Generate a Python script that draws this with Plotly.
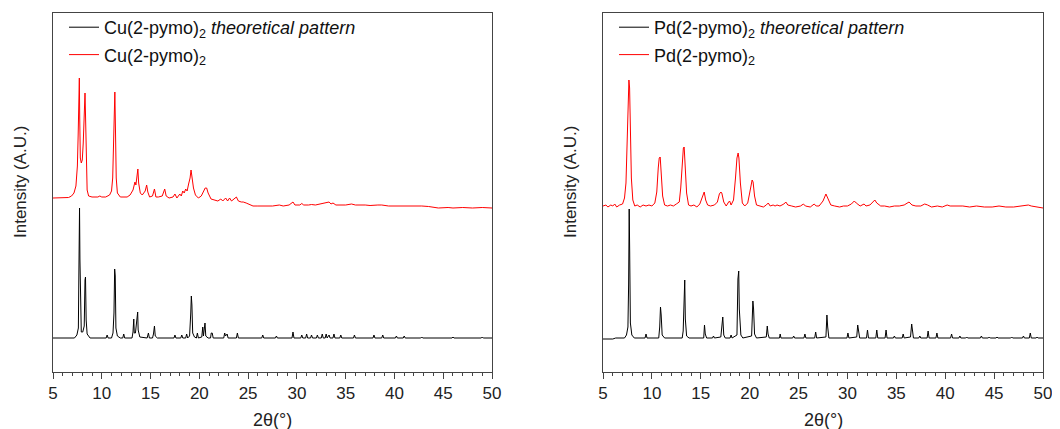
import plotly.graph_objects as go

# ---------------- data (2θ in degrees, intensity in arbitrary units) ----------------
cu_theo_2theta = [5.0, 7.2, 7.45, 7.6, 7.65, 7.72, 7.76, 7.82, 7.9, 8.05, 8.2, 8.28, 8.33, 8.4, 8.5, 8.8,
                  10.45, 10.55, 10.65, 11.0, 11.15, 11.25, 11.32, 11.38, 11.45, 11.6, 11.9, 12.15, 12.25, 12.35,
                  13.1, 13.2, 13.28, 13.33, 13.45, 13.6, 13.68, 13.73, 13.9, 14.65, 14.78, 14.88, 15.2, 15.3,
                  15.4, 15.48, 15.7, 17.4, 17.5, 17.6, 18.1, 18.2, 18.3, 18.6, 18.7, 18.8, 19.0, 19.12, 19.18,
                  19.24, 19.32, 19.5, 19.7, 19.8, 19.9, 20.25, 20.35, 20.42, 20.5, 20.58, 20.66, 20.9, 21.15,
                  21.22, 21.32, 21.42, 22.5, 22.6, 22.68, 22.85, 22.95, 23.8, 23.9, 24.0, 26.4, 26.5, 26.6,
                  27.8, 27.9, 28.0, 29.5, 29.6, 29.7, 30.4, 30.5, 30.6, 30.9, 31.0, 31.1, 31.4, 31.5, 31.6,
                  32.0, 32.1, 32.2, 32.5, 32.6, 32.7, 32.9, 33.0, 33.1, 33.3, 33.4, 33.7, 33.8, 33.9, 34.4,
                  34.5, 34.6, 35.8, 35.9, 36.0, 37.8, 37.9, 38.0, 38.7, 38.8, 38.9, 40.1, 40.2, 40.3, 40.9,
                  41.0, 41.1, 42.7, 42.8, 42.9, 45.9, 46.0, 46.1, 48.9, 49.0, 49.1, 50.0]
cu_theo_int = [0, 0, 3, 10, 62, 130, 79, 18, 6, 6, 12, 58, 61, 18, 4, 0,
               0, 3, 0, 0, 5, 25, 69, 62, 10, 2, 0, 0, 4, 0,
               0, 6, 19, 5, 5, 22, 26, 8, 1, 0, 5, 0, 0, 4,
               12, 2, 0, 0, 3, 0, 0, 3, 0, 0, 4, 0, 2, 25, 42,
               33, 5, 1, 0, 5, 0, 1, 11, 2, 12, 15, 2, 0, 0,
               5, 5, 0, 0, 5, 2, 4, 0, 0, 5, 0, 0, 3, 0,
               0, 2, 0, 0, 6, 0, 0, 3, 0, 0, 4, 0, 0, 3, 0,
               0, 3, 0, 0, 4, 0, 0, 4, 0, 3, 0, 0, 4, 0, 0,
               3, 0, 0, 3, 0, 0, 3, 0, 0, 3, 0, 0, 2, 0, 0,
               2, 0, 0, 1, 0, 0, 1, 0, 0, 1, 0, 0]

cu_exp_2theta = [5.0, 6.0, 6.6, 6.9, 7.15, 7.35, 7.5, 7.58, 7.64, 7.7, 7.74, 7.8, 7.9, 8.0, 8.1, 8.2, 8.28,
                 8.34, 8.42, 8.5, 8.65, 9.0, 9.6, 9.8, 10.0, 10.4, 10.8, 11.0, 11.12, 11.22, 11.28, 11.34,
                 11.4, 11.48, 11.6, 11.9, 12.6, 12.9, 13.2, 13.4, 13.5, 13.62, 13.7, 13.78, 13.95, 14.15,
                 14.45, 14.6, 14.72, 14.9, 15.2, 15.4, 15.55, 15.8, 16.2, 16.45, 16.6, 16.9, 17.3, 17.5,
                 17.7, 18.0, 18.15, 18.3, 18.45, 18.6, 18.75, 18.9, 19.05, 19.15, 19.25, 19.4, 19.6, 19.9,
                 20.2, 20.45, 20.6, 20.75, 20.9, 21.2, 21.6, 21.9, 22.2, 22.4, 22.7, 22.9, 23.1, 23.3, 23.8,
                 24.0, 24.3, 24.5, 24.8, 25.0, 25.5, 26.0, 27.0, 27.5, 28.2, 28.6, 29.2, 29.6, 29.8, 30.3,
                 30.5, 30.7, 31.2, 31.5, 31.9, 32.3, 32.6, 33.0, 33.3, 33.5, 33.7, 34.0, 34.5, 35.0, 35.6,
                 36.0, 37.0, 37.5, 38.3, 38.7, 39.4, 40.5, 41.5, 42.3, 42.8, 43.5, 44.5, 45.5, 46.0, 47.0,
                 48.0, 49.0, 50.0]
cu_exp_int = [10, 10, 10.5, 12, 15, 22, 42, 73, 130, 130, 90, 50, 45, 48, 65, 100, 115,
              90, 40, 18, 12, 11, 11, 12, 11, 11, 13, 17, 30, 70, 95, 116,
              80, 30, 15, 11, 11, 13, 18, 26, 23, 35, 39, 25, 15, 13,
              17, 23, 16, 11, 12, 19, 11, 11, 12, 19, 12, 10, 11, 14,
              10, 14, 12, 17, 15, 19, 17, 24, 30, 38, 30, 20, 13, 10,
              12, 18, 20, 20, 15, 9, 8, 7, 9, 7, 10, 7, 10, 7, 11,
              7, 6, 6, 5, 4, 2, 2, 2, 2, 3, 2, 3, 6, 3, 3,
              4.5, 3, 3, 3.5, 3, 4, 4, 5, 6, 4, 5, 3, 3, 3, 4,
              3, 3, 2.5, 3, 3, 2, 2, 2, 2.5, 2, 1.5, 0, 0.5, 0, 0.5,
              0, 0.5, 0]

pd_theo_2theta = [5.0, 6.0, 6.3, 7.2, 7.4, 7.55, 7.62, 7.68, 7.73, 7.8, 7.95, 8.2, 9.3, 9.4, 9.5, 10.7,
                  10.8, 10.88, 10.95, 11.05, 11.3, 13.1, 13.2, 13.3, 13.36, 13.42, 13.55, 13.8, 15.3, 15.38,
                  15.46, 15.6, 16.2, 16.3, 16.4, 17.05, 17.15, 17.25, 17.35, 17.5, 18.0, 18.1, 18.2, 18.7,
                  18.8, 18.88, 18.94, 19.0, 19.1, 19.3, 20.2, 20.33, 20.4, 20.5, 20.7, 21.7, 21.8, 21.88,
                  22.0, 23.05, 23.12, 23.2, 24.4, 24.5, 24.6, 25.55, 25.65, 25.75, 26.65, 26.75, 26.85,
                  27.8, 27.9, 27.98, 28.1, 29.95, 30.05, 30.15, 30.95, 31.05, 31.13, 31.25, 31.95, 32.05,
                  32.15, 32.9, 33.0, 33.1, 33.85, 33.95, 34.05, 34.7, 34.8, 34.9, 35.6, 35.7, 35.8, 36.45,
                  36.57, 36.65, 36.75, 37.3, 37.4, 37.5, 38.15, 38.25, 38.35, 39.05, 39.15, 39.25, 40.55,
                  40.65, 40.75, 41.4, 41.5, 41.6, 42.1, 42.2, 42.3, 43.6, 43.7, 43.8, 44.4, 44.5, 44.6,
                  45.2, 45.3, 45.4, 46.7, 46.8, 46.9, 47.9, 48.0, 48.1, 48.6, 48.7, 48.8, 49.3, 49.4, 49.5,
                  50.0]
pd_theo_int = [0, 0, 1, 1, 4, 12, 54, 130, 87, 16, 4, 1, 1, 5, 1, 1,
               12, 32, 24, 4, 1, 1, 8, 44, 59, 20, 3, 1, 1, 14,
               5, 1, 1, 3, 1, 2, 18, 22, 4, 1, 1, 4, 1, 4,
               60, 68, 30, 19, 4, 1, 3, 38, 30, 5, 1, 2, 13, 5,
               1, 1, 5, 1, 1, 3, 1, 1, 5, 1, 1, 7, 1,
               2, 24, 12, 1, 1, 6, 1, 2, 14, 10, 1, 1, 9,
               1, 1, 9, 1, 1, 9, 1, 1, 3, 1, 1, 5, 1, 2,
               15, 8, 1, 1, 3, 1, 1, 8, 1, 1, 6, 1, 1,
               5, 1, 1, 3, 1, 1, 2, 1, 1, 3, 1, 1, 2, 1,
               1, 2, 1, 1, 2, 1, 1, 3, 1, 1, 6, 1, 1, 2, 1,
               1]

pd_exp_2theta = [5.0, 5.3, 5.5, 5.8, 6.0, 6.2, 6.4, 6.7, 7.0, 7.2, 7.35, 7.48, 7.58, 7.65, 7.72, 7.8, 7.9,
                 8.05, 8.25, 8.5, 8.8, 9.1, 9.4, 9.7, 10.0, 10.3, 10.5, 10.65, 10.75, 10.85, 10.95, 11.1,
                 11.3, 11.6, 11.9, 12.2, 12.5, 12.8, 12.95, 13.1, 13.22, 13.3, 13.42, 13.55, 13.75, 14.0,
                 14.3, 14.6, 14.9, 15.1, 15.25, 15.35, 15.5, 15.7, 16.0, 16.4, 16.7, 16.9, 17.05, 17.15,
                 17.35, 17.6, 17.85, 17.95, 18.1, 18.35, 18.55, 18.7, 18.82, 18.9, 19.05, 19.25, 19.5,
                 19.8, 20.0, 20.15, 20.25, 20.35, 20.5, 20.7, 21.0, 21.4, 21.7, 21.9, 22.1, 22.4, 22.6,
                 22.8, 23.1, 23.5, 23.7, 23.9, 24.3, 24.7, 25.2, 25.5, 25.7, 26.2, 26.6, 26.8, 27.1, 27.5,
                 27.8, 28.0, 28.3, 28.7, 29.2, 29.6, 30.0, 30.4, 30.7, 30.9, 31.3, 31.7, 31.9, 32.3, 32.6,
                 32.8, 33.0, 33.4, 33.8, 34.3, 34.8, 35.3, 35.8, 36.1, 36.3, 36.6, 37.0, 37.5, 37.9, 38.2,
                 38.6, 39.2, 39.7, 40.2, 40.5, 41.0, 41.8, 42.5, 43.2, 44.0, 44.8, 45.5, 46.2, 47.0, 47.8,
                 48.5, 48.8, 49.3, 50.0]
pd_exp_int = [2, 3, 1, 3, 2, 4, 1, 3, 4, 10, 25, 70, 115, 128, 120, 75, 30,
              8, 2, 3, 1, 3, 2, 3, 2, 5, 16, 40, 50, 51, 38, 12,
              3, 2, 3, 2, 4, 6, 20, 45, 60, 61, 40, 15, 3, 2,
              3, 1, 4, 10, 15, 16, 8, 3, 2, 3, 6, 14, 16, 15,
              6, 2, 6, 7, 3, 8, 30, 50, 55, 50, 25, 5, 2,
              5, 15, 26, 28, 26, 12, 3, 2, 1, 3, 5, 2, 3, 2,
              3, 2, 4, 6, 3, 2, 1, 2, 4, 2, 1, 4, 2, 2, 7,
              14, 9, 3, 2, 1, 2, 2, 4, 7, 5, 2, 4, 2, 3, 6,
              8, 5, 2, 2, 1, 2, 2, 3, 5, 6, 3, 2, 2, 4, 3,
              1, 2, 1, 3, 2, 2, 2, 1, 2, 1, 1, 2, 1, 1, 2,
              3, 2, 1, 0]

series_names = {
    "cu_theo": "Cu(2-pymo)<sub>2</sub> <i>theoretical pattern</i>",
    "cu_exp": "Cu(2-pymo)<sub>2</sub>",
    "pd_theo": "Pd(2-pymo)<sub>2</sub> <i>theoretical pattern</i>",
    "pd_exp": "Pd(2-pymo)<sub>2</sub>",
}

x_ticks = [5, 10, 15, 20, 25, 30, 35, 40, 45, 50]
x_title = "2θ(°)"
y_title = "Intensity (A.U.)"

# stacking offsets (layout)
THEO_OFFSET_CU = 34
EXP_OFFSET_CU = 164
THEO_OFFSET_PD = 33
EXP_OFFSET_PD = 164

FONT = "Liberation Sans, Arial, sans-serif"
# the page body has an 8px margin, so the figure is drawn 8px smaller and all
# page-pixel positions below are shifted by that amount
OFF = 8
W, H = 1060 - OFF, 429 - OFF
PLOT_TOP, PLOT_BOTTOM = 13 - OFF, 372 - OFF
MT, MB = PLOT_TOP, H - PLOT_BOTTOM
PH = H - MT - MB


def px_x(page_x):
    return (page_x - OFF) / W


def px_y(page_y):
    return (PLOT_BOTTOM - (page_y - OFF)) / PH


fig = go.Figure()

fig.add_trace(go.Scatter(x=cu_theo_2theta, y=[v + THEO_OFFSET_CU for v in cu_theo_int],
                         mode="lines", line=dict(color="#000000", width=1),
                         name=series_names["cu_theo"], xaxis="x", yaxis="y",
                         legend="legend", legendgroup="a"))
fig.add_trace(go.Scatter(x=cu_exp_2theta, y=[v + EXP_OFFSET_CU for v in cu_exp_int],
                         mode="lines", line=dict(color="#ff0000", width=1),
                         name=series_names["cu_exp"], xaxis="x", yaxis="y",
                         legend="legend", legendgroup="b"))
fig.add_trace(go.Scatter(x=pd_theo_2theta, y=[v + THEO_OFFSET_PD for v in pd_theo_int],
                         mode="lines", line=dict(color="#000000", width=1),
                         name=series_names["pd_theo"], xaxis="x2", yaxis="y2",
                         legend="legend2", legendgroup="c"))
fig.add_trace(go.Scatter(x=pd_exp_2theta, y=[v + EXP_OFFSET_PD for v in pd_exp_int],
                         mode="lines", line=dict(color="#ff0000", width=1),
                         name=series_names["pd_exp"], xaxis="x2", yaxis="y2",
                         legend="legend2", legendgroup="d"))

axis_color = "#444444"
text_color = "#222222"
xcommon = dict(range=[5, 50], tickvals=x_ticks, ticks="outside", ticklen=6, tickwidth=1,
               tickcolor=axis_color, showline=True, linecolor=axis_color, linewidth=1, mirror=True,
               showgrid=False, zeroline=False, automargin=False,
               minor=dict(dtick=1, ticks="outside", ticklen=3, tickcolor=axis_color, showgrid=False),
               tickfont=dict(family=FONT, size=17, color=text_color))
ycommon = dict(range=[0, 359], showticklabels=False, ticks="", showline=True, linecolor=axis_color,
               linewidth=1, mirror=True, showgrid=False, zeroline=False, automargin=False)

legend_common = dict(xanchor="left", yanchor="top", y=px_y(9), bgcolor="rgba(0,0,0,0)",
                     font=dict(family=FONT, size=18, color="#111111"),
                     traceorder="grouped", tracegroupgap=1, itemwidth=30)

left_dom = [px_x(53), px_x(492)]
right_dom = [px_x(603), px_x(1043)]

annotations = []
for dom in (left_dom, right_dom):
    annotations.append(dict(text=x_title, xref="paper", yref="paper", x=(dom[0] + dom[1]) / 2,
                            y=px_y(420), xanchor="center", yanchor="middle", showarrow=False,
                            font=dict(family=FONT, size=18, color=text_color)))
    annotations.append(dict(text=y_title, xref="paper", yref="paper", x=dom[0] - 33 / W,
                            y=px_y(182), xanchor="center", yanchor="middle", showarrow=False,
                            textangle=-90, font=dict(family=FONT, size=17, color=text_color)))

fig.update_layout(
    width=W, height=H,
    margin=dict(l=0, r=0, t=MT, b=MB),
    paper_bgcolor="white", plot_bgcolor="white",
    showlegend=True,
    xaxis=dict(domain=left_dom, anchor="y", **xcommon),
    yaxis=dict(domain=[0, 1], anchor="x", **ycommon),
    xaxis2=dict(domain=right_dom, anchor="y2", **xcommon),
    yaxis2=dict(domain=[0, 1], anchor="x2", **ycommon),
    legend=dict(x=px_x(64), **legend_common),
    legend2=dict(x=px_x(614), **legend_common),
    annotations=annotations,
)

fig.write_html("out.html")
